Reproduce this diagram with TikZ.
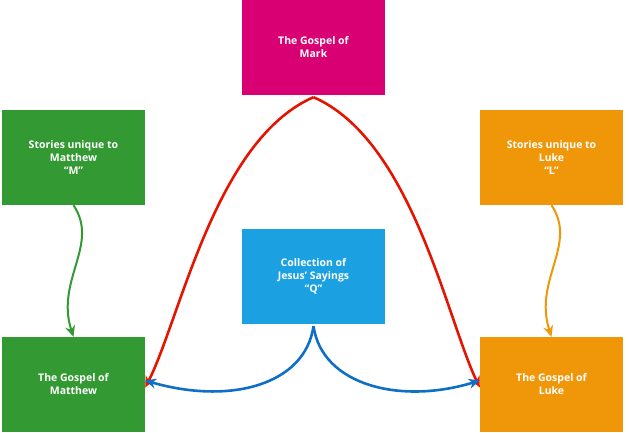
\documentclass[tikz,border=0pt]{standalone}
\usepackage{fontspec}
\setmainfont{Open Sans}
\usetikzlibrary{arrows.meta}
\definecolor{markc}{HTML}{D80073}
\definecolor{matc}{HTML}{339933}
\definecolor{lukec}{HTML}{F09609}
\definecolor{qc}{HTML}{1BA1E2}
\definecolor{redc}{HTML}{E51400}
\definecolor{bluec}{HTML}{0F6FC6}
\tikzset{
  box/.style={minimum width=143pt, minimum height=95pt, inner sep=0pt,
    text=white, font=\bfseries\fontsize{10.5}{13}\selectfont, align=center},
  link/.style={line width=2.6pt, -{Stealth[length=11pt,width=10pt]}}
}
\begin{document}
\begin{tikzpicture}[x=1pt,y=-1pt]
    \useasboundingbox (0,0) rectangle (629,433);
    \node[box, fill=markc] (mark) at (313.5,47.5) {The Gospel of\\Mark};
    \node[box, fill=matc] (m) at (73.5,157.5) {Stories unique to\\Matthew\\``M''};
    \node[box, fill=lukec] (l) at (551.5,157.5) {Stories unique to\\Luke\\``L''};
    \node[box, fill=qc] (q) at (313.5,276.5) {Collection of\\Jesus' Sayings\\``Q''};
    \node[box, fill=matc] (matt) at (73.5,384.5) {The Gospel of\\Matthew};
    \node[box, fill=lukec] (luke) at (551.5,384.5) {The Gospel of\\Luke};

    \coordinate (mk) at ([yshift=-2pt]mark.south);
    \draw[link, redc] (mk) .. controls (215,140) and (180,320) .. ([yshift=-3pt]matt.east);
    \draw[link, redc] (mk) .. controls (412,140) and (447,320) .. ([yshift=-3pt]luke.west);

    \coordinate (qs) at ([yshift=-2pt]q.south);
    \draw[link, bluec] (qs) .. controls (305,385) and (230,405) .. ([yshift=4pt]matt.east);
    \draw[link, bluec] (qs) .. controls (322,385) and (400,405) .. ([yshift=4pt]luke.west);

    \draw[link, matc, line width=2pt] (m.south) .. controls (100,245) and (55,280) .. (matt.north);
    \draw[link, lukec, line width=2pt] (l.south) .. controls (578,245) and (533,280) .. (luke.north);
\end{tikzpicture}
\end{document}
